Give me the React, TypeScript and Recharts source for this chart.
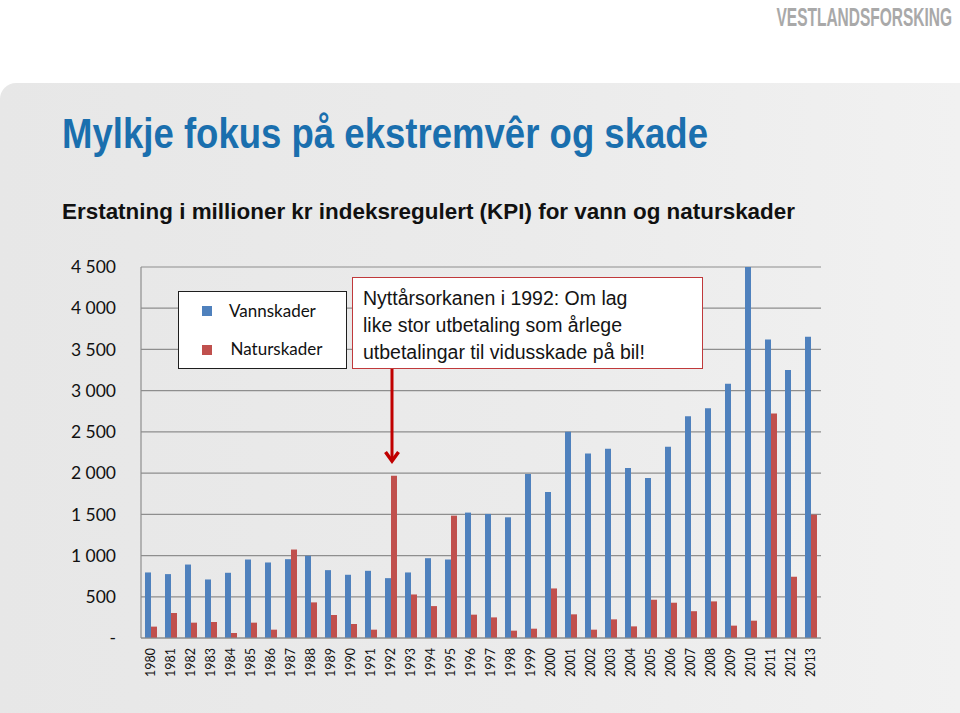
import { BarChart, Bar, XAxis, YAxis, CartesianGrid, Legend } from 'recharts';

const years = [
  '1980', '1981', '1982', '1983', '1984', '1985', '1986', '1987', '1988', '1989',
  '1990', '1991', '1992', '1993', '1994', '1995', '1996', '1997', '1998', '1999',
  '2000', '2001', '2002', '2003', '2004', '2005', '2006', '2007', '2008', '2009',
  '2010', '2011', '2012', '2013',
];

// Erstatning i mill. kr (KPI-justert)
const vannskader = [
  795, 775, 891, 710, 791, 952, 916, 956, 997, 823,
  767, 815, 726, 795, 968, 952, 1521, 1505, 1464, 1988,
  1771, 2502, 2238, 2295, 2061, 1940, 2319, 2690, 2787, 3085,
  4500, 3622, 3250, 3653,
];
const naturskader = [
  138, 303, 186, 194, 61, 186, 101, 1073, 432, 279,
  170, 101, 1968, 528, 387, 1484, 283, 250, 89, 113,
  601, 287, 101, 226, 141, 464, 428, 325, 444, 150,
  210, 2722, 743, 1496,
];

const seriesNames = ['Vannskader', 'Naturskader'];
const yTicks = [0, 500, 1000, 1500, 2000, 2500, 3000, 3500, 4000, 4500];

const data = years.map((year, i) => ({
  year,
  Vannskader: vannskader[i],
  Naturskader: naturskader[i],
}));

const BLUE = '#4f81bd';
const RED = '#c0504d';
const GRID = '#8e8e8e';

const fmt = (v: number) => {
  if (v === 0) return '-';
  const th = Math.floor(v / 1000);
  const rest = v % 1000;
  return th > 0 ? `${th} ${String(rest).padStart(3, '0')}` : String(rest);
};

const YearTick = ({ x, y, payload }: any) => (
  <text
    x={x}
    y={y}
    transform={`rotate(-90 ${x} ${y})`}
    textAnchor="end"
    dy="0.35em"
    fontSize={12.5}
    fontFamily="Lato, sans-serif"
    fill="#111"
  >
    {payload.value}
  </text>
);

const LegendBox = ({ payload }: any) => {
  const items = [...(payload || [])].sort(
    (a: any, b: any) => seriesNames.indexOf(a.value) - seriesNames.indexOf(b.value)
  );
  return (
    <div
      style={{
        position: 'relative',
        width: 169,
        height: 78,
        boxSizing: 'border-box',
        border: '1.5px solid #1e1e1e',
        background: '#fff',
        fontFamily: 'Lato, sans-serif',
        fontSize: 17,
        color: '#111',
      }}
    >
      {items.map((p: any, i: number) => (
        <div key={p.value}>
          <div
            style={{
              position: 'absolute',
              left: 23,
              top: 14 + i * 39,
              width: 10,
              height: 10,
              background: p.color,
            }}
          />
          <div
            style={{
              position: 'absolute',
              left: 50 + i * 1.5,
              top: 8 + i * 38,
              lineHeight: '22px',
              whiteSpace: 'nowrap',
            }}
          >
            {p.value}
          </div>
        </div>
      ))}
    </div>
  );
};

export default function App() {
  return (
    <div
      style={{
        position: 'absolute',
        left: 0,
        top: 0,
        width: 960,
        height: 713,
        background: '#fff',
        overflow: 'hidden',
      }}
    >
      <div
        style={{
          position: 'absolute',
          left: 0,
          top: 83,
          width: 960,
          height: 630,
          borderTopLeftRadius: 16,
          background: 'linear-gradient(90deg, #e7e7e7 0%, #ebebeb 55%, #efefef 85%, #f1f1f1 100%)',
        }}
      />

      <svg width={960} height={240} style={{ position: 'absolute', left: 0, top: 0 }}>
        <text
          x={0}
          y={0}
          transform="translate(952,26) scale(1,1.65)"
          textAnchor="end"
          fontFamily="'Liberation Sans', Arial, sans-serif"
          fontWeight={700}
          fontSize={15.5}
          fill="#a9a9a9"
        >
          VESTLANDSFORSKING
        </text>
        <text
          x={62}
          y={148}
          fontFamily="'Liberation Sans', Arial, sans-serif"
          fontWeight={700}
          fontSize={43}
          fill="#1a6fae"
          textLength={646}
          lengthAdjust="spacingAndGlyphs"
        >
          Mylkje fokus på ekstremvêr og skade
        </text>
        <text
          x={62}
          y={219}
          fontFamily="'Liberation Sans', Arial, sans-serif"
          fontWeight={700}
          fontSize={21.5}
          fill="#111"
          textLength={733}
          lengthAdjust="spacingAndGlyphs"
        >
          Erstatning i millioner kr indeksregulert (KPI) for vann og naturskader
        </text>
      </svg>

      <div style={{ position: 'absolute', left: 0, top: 0 }}>
        <BarChart
          width={960}
          height={713}
          data={data}
          margin={{ top: 267, right: 139, bottom: 15, left: 0 }}
          barCategoryGap={4}
          barGap={0}
        >
          <CartesianGrid vertical={false} stroke={GRID} strokeWidth={1.2} />
          <XAxis
            dataKey="year"
            interval={0}
            height={60}
            tickLine={false}
            tickMargin={4}
            axisLine={{ stroke: GRID, strokeWidth: 1.2 }}
            tick={<YearTick />}
          />
          <YAxis
            width={141}
            domain={[0, 4500]}
            ticks={yTicks}
            interval={0}
            tickLine={false}
            tickMargin={19}
            tickFormatter={fmt}
            axisLine={{ stroke: GRID, strokeWidth: 1.2 }}
            tick={{ fill: '#111', fontSize: 17.5, fontFamily: 'Lato, sans-serif' }}
          />
          <Legend
            layout="vertical"
            align="center"
            verticalAlign="middle"
            content={<LegendBox />}
            wrapperStyle={{ left: 178, top: 291, width: 169, height: 78 }}
          />
          <Bar dataKey="Vannskader" fill={BLUE} isAnimationActive={false} />
          <Bar dataKey="Naturskader" fill={RED} isAnimationActive={false} />
        </BarChart>
      </div>

      <div
        style={{
          position: 'absolute',
          left: 352,
          top: 277,
          width: 351,
          height: 92,
          boxSizing: 'border-box',
          border: '1.5px solid #c0393b',
          background: '#fff',
          padding: '7px 0 0 10px',
          fontFamily: "'Liberation Sans', Arial, sans-serif",
          fontSize: 19.5,
          lineHeight: '27px',
          color: '#141414',
          whiteSpace: 'nowrap',
        }}
      >
        Nyttårsorkanen i 1992: Om lag
        <br />
        like stor utbetaling som årlege
        <br />
        utbetalingar til vidusskade på bil!
      </div>

      <svg width={960} height={713} style={{ position: 'absolute', left: 0, top: 0, pointerEvents: 'none' }}>
        <line x1={392} y1={369} x2={392} y2={460} stroke="#c00000" strokeWidth={3} />
        <polyline
          points="385.5,452 392,461 398.5,452"
          fill="none"
          stroke="#c00000"
          strokeWidth={3.5}
          strokeLinejoin="miter"
        />
      </svg>
    </div>
  );
}
